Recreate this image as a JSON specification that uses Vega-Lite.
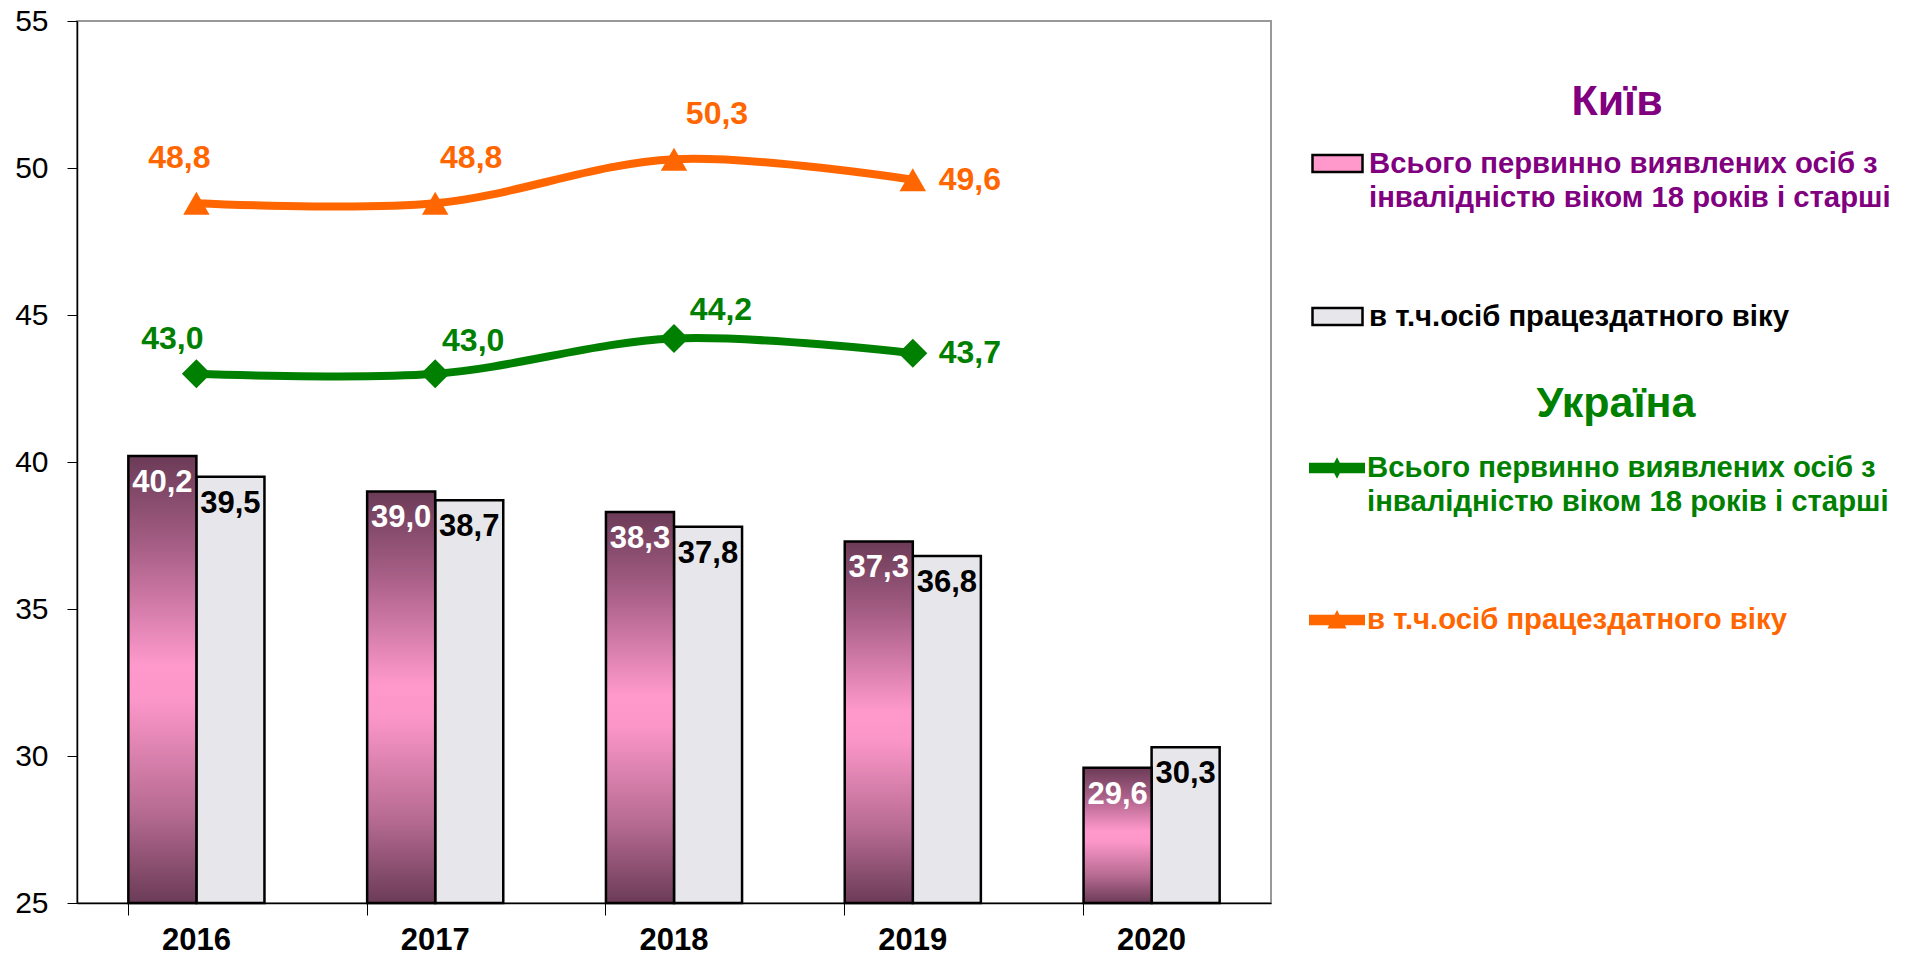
{
  "$schema": "https://vega.github.io/schema/vega-lite/v6.json",
  "width": 1194,
  "height": 882,
  "autosize": {"type": "none"},
  "padding": {"left": 77, "top": 21, "right": 638, "bottom": 54},
  "background": "white",
  "config": {
    "font": "Liberation Sans",
    "view": {"stroke": "#999999", "strokeWidth": 2},
    "locale": {"number": {"decimal": ",", "thousands": " ", "grouping": [3], "currency": ["", " ₴"]}}
  },
  "data": {
    "values": [
      {"year": "2016", "s": "K1", "value": 40.2},
      {"year": "2017", "s": "K1", "value": 39.0},
      {"year": "2018", "s": "K1", "value": 38.3},
      {"year": "2019", "s": "K1", "value": 37.3},
      {"year": "2020", "s": "K1", "value": 29.6},
      {"year": "2016", "s": "K2", "value": 39.5},
      {"year": "2017", "s": "K2", "value": 38.7},
      {"year": "2018", "s": "K2", "value": 37.8},
      {"year": "2019", "s": "K2", "value": 36.8},
      {"year": "2020", "s": "K2", "value": 30.3},
      {"year": "2016", "s": "U1", "value": 43.0},
      {"year": "2017", "s": "U1", "value": 43.0},
      {"year": "2018", "s": "U1", "value": 44.2},
      {"year": "2019", "s": "U1", "value": 43.7},
      {"year": "2016", "s": "U2", "value": 48.8},
      {"year": "2017", "s": "U2", "value": 48.8},
      {"year": "2018", "s": "U2", "value": 50.3},
      {"year": "2019", "s": "U2", "value": 49.6}
    ]
  },
  "encoding": {
    "x": {
      "field": "year", "type": "nominal",
      "scale": {"domain": ["2016", "2017", "2018", "2019", "2020"], "paddingInner": 0.43, "paddingOuter": 0.215},
      "axis": {
        "title": null, "labelAngle": 0, "labelFont": "Liberation Sans", "labelFontSize": 31, "labelFontWeight": "bold",
        "labelColor": "black", "labelPadding": 10, "labelBaseline": "top",
        "bandPosition": 0, "tickSize": 12, "tickColor": "black", "tickWidth": 1,
        "domainColor": "black", "domainWidth": 1.5, "grid": false
      }
    },
    "y": {
      "field": "value", "type": "quantitative",
      "scale": {"domain": [25, 55], "nice": false, "zero": false},
      "axis": {
        "title": null, "values": [25, 30, 35, 40, 45, 50, 55], "labelFont": "Liberation Sans", "labelFontSize": 30,
        "labelColor": "black", "labelPadding": 19, "tickSize": 10, "tickColor": "black", "tickWidth": 1,
        "domainColor": "black", "domainWidth": 1.5, "grid": false
      }
    }
  },
  "layer": [
    {
      "transform": [{"filter": "datum.s == 'K2'"}],
      "mark": {"type": "bar", "stroke": "black", "strokeWidth": 2.5},
      "encoding": {
        "xOffset": {"field": "s", "type": "nominal", "scale": {"domain": ["K1", "K2"], "paddingInner": 0}},
        "y2": {"datum": 25},
        "fill": {
          "field": "s", "type": "nominal",
          "scale": {"domain": ["K1", "K2"], "range": ["#ff99cc", "#e7e7eb"]},
          "legend": {
            "orient": "none", "legendX": 1234, "legendY": 60,
            "title": "Київ", "titleFont": "Liberation Sans", "titleFontSize": 43, "titleFontWeight": "bold",
            "titleColor": "#800080", "titleAnchor": "middle", "titlePadding": 13,
            "labelExpr": "datum.value == 'K1' ? ['Всього первинно виявлених осіб з', 'інвалідністю віком 18 років і старші'] : 'в т.ч.осіб працездатного віку'",
            "labelFont": "Liberation Sans", "labelFontSize": 29.3, "labelFontWeight": "bold", "labelLimit": 0,
            "labelOffset": 5, "rowPadding": 77,
            "symbolType": "M-1,-0.34H1V0.34H-1Z", "symbolSize": 2500, "symbolStrokeColor": "black", "symbolStrokeWidth": 2.5,
            "encode": {
              "labels": {"update": {
                "fill": {"signal": "datum.value == 'K1' ? '#800080' : 'black'"},
                "lineHeight": {"value": 34}
              }},
              "title": {"update": {"dx": {"value": 16}}}
            }
          }
        }
      }
    },
    {
      "transform": [{"filter": "datum.s == 'K1'"}],
      "mark": {
        "type": "bar", "stroke": "black", "strokeWidth": 2.5,
        "fill": {
          "gradient": "linear", "x1": 0, "y1": 0, "x2": 0, "y2": 1,
          "stops": [
            {"offset": 0, "color": "#6b3b57"},
            {"offset": 0.2, "color": "#a65e85"},
            {"offset": 0.47, "color": "#ff99cc"},
            {"offset": 0.55, "color": "#fb96c8"},
            {"offset": 0.8, "color": "#b56a91"},
            {"offset": 1, "color": "#6b3b57"}
          ]
        }
      },
      "encoding": {
        "xOffset": {"field": "s", "type": "nominal", "scale": {"domain": ["K1", "K2"], "paddingInner": 0}},
        "y2": {"datum": 25}
      }
    },
    {
      "transform": [{"filter": "datum.s == 'K1' || datum.s == 'K2'"}],
      "mark": {"type": "text", "font": "Liberation Sans", "fontSize": 31, "fontWeight": "bold", "baseline": "middle", "align": "center", "dy": 27},
      "encoding": {
        "xOffset": {"field": "s", "type": "nominal", "scale": {"domain": ["K1", "K2"], "paddingInner": 0}},
        "text": {"field": "value", "type": "quantitative", "format": ".1f"},
        "color": {"condition": {"test": "datum.s == 'K1'", "value": "white"}, "value": "black"}
      }
    },
    {
      "transform": [{"filter": "datum.s == 'U1' || datum.s == 'U2'"}],
      "mark": {"type": "line", "interpolate": "catmull-rom", "strokeWidth": 8},
      "encoding": {
        "color": {
          "field": "s", "type": "nominal",
          "scale": {"domain": ["U1", "U2"], "range": ["#008000", "#ff6600"]},
          "legend": {
            "orient": "none", "legendX": 1232, "legendY": 362,
            "title": "Україна", "titleFont": "Liberation Sans", "titleFontSize": 43, "titleFontWeight": "bold",
            "titleColor": "#008000", "titleAnchor": "middle", "titlePadding": 14,
            "labelExpr": "datum.value == 'U1' ? ['Всього первинно виявлених осіб з', 'інвалідністю віком 18 років і старші'] : 'в т.ч.осіб працездатного віку'",
            "labelFont": "Liberation Sans", "labelFontSize": 29.3, "labelFontWeight": "bold", "labelLimit": 0,
            "labelOffset": 2, "rowPadding": 74,
            "symbolSize": 3136, "symbolStrokeWidth": 0,
            "symbolType": "M-1,-0.19H1V0.19H-1Z",
            "encode": {
              "symbols": {"update": {
                "shape": {"signal": "datum.value == 'U1' ? 'M-1,-0.19H1V0.19H-1Z M0,-0.38L0.2,0L0,0.38L-0.2,0Z' : 'M-1,-0.19H1V0.19H-1Z M0,-0.36L0.34,0.3L-0.34,0.3Z'"},
                "fill": {"signal": "datum.value == 'U1' ? '#008000' : '#ff6600'"},
                "strokeWidth": {"value": 0},
                "opacity": {"value": 1}
              }},
              "labels": {"update": {
                "fill": {"signal": "datum.value == 'U1' ? '#008000' : '#ff6600'"},
                "lineHeight": {"value": 34}
              }},
              "title": {"update": {"dx": {"value": 17}}}
            }
          }
        }
      }
    },
    {
      "transform": [{"filter": "datum.s == 'U1'"}],
      "mark": {"type": "point", "filled": true, "opacity": 1, "shape": "diamond", "size": 841},
      "encoding": {"color": {"field": "s", "type": "nominal"}}
    },
    {
      "transform": [{"filter": "datum.s == 'U2'"}],
      "mark": {"type": "point", "filled": true, "opacity": 1, "shape": "triangle-up", "size": 700},
      "encoding": {"color": {"field": "s", "type": "nominal"}}
    },
    {
      "transform": [{"filter": "datum.s == 'U2' && datum.year == '2016'"}],
      "mark": {"type": "text", "font": "Liberation Sans", "fontSize": 32, "fontWeight": "bold", "baseline": "middle", "align": "center", "dx": -17, "dy": -45, "color": "#ff6600"},
      "encoding": {"text": {"field": "value", "type": "quantitative", "format": ".1f"}}
    },
    {
      "transform": [{"filter": "datum.s == 'U2' && datum.year == '2017'"}],
      "mark": {"type": "text", "font": "Liberation Sans", "fontSize": 32, "fontWeight": "bold", "baseline": "middle", "align": "center", "dx": 36, "dy": -45, "color": "#ff6600"},
      "encoding": {"text": {"field": "value", "type": "quantitative", "format": ".1f"}}
    },
    {
      "transform": [{"filter": "datum.s == 'U2' && datum.year == '2018'"}],
      "mark": {"type": "text", "font": "Liberation Sans", "fontSize": 32, "fontWeight": "bold", "baseline": "middle", "align": "center", "dx": 43, "dy": -45, "color": "#ff6600"},
      "encoding": {"text": {"field": "value", "type": "quantitative", "format": ".1f"}}
    },
    {
      "transform": [{"filter": "datum.s == 'U1' && datum.year == '2016'"}],
      "mark": {"type": "text", "font": "Liberation Sans", "fontSize": 32, "fontWeight": "bold", "baseline": "middle", "align": "center", "dx": -24, "dy": -35, "color": "#008000"},
      "encoding": {"text": {"field": "value", "type": "quantitative", "format": ".1f"}}
    },
    {
      "transform": [{"filter": "datum.s == 'U1' && datum.year == '2017'"}],
      "mark": {"type": "text", "font": "Liberation Sans", "fontSize": 32, "fontWeight": "bold", "baseline": "middle", "align": "center", "dx": 38, "dy": -33, "color": "#008000"},
      "encoding": {"text": {"field": "value", "type": "quantitative", "format": ".1f"}}
    },
    {
      "transform": [{"filter": "datum.s == 'U1' && datum.year == '2018'"}],
      "mark": {"type": "text", "font": "Liberation Sans", "fontSize": 32, "fontWeight": "bold", "baseline": "middle", "align": "center", "dx": 47, "dy": -29, "color": "#008000"},
      "encoding": {"text": {"field": "value", "type": "quantitative", "format": ".1f"}}
    },
    {
      "transform": [{"filter": "(datum.s == 'U1' || datum.s == 'U2') && datum.year == '2019'"}],
      "mark": {"type": "text", "font": "Liberation Sans", "fontSize": 32, "fontWeight": "bold", "baseline": "middle", "align": "center", "dx": 57, "dy": 0},
      "encoding": {
        "text": {"field": "value", "type": "quantitative", "format": ".1f"},
        "color": {"condition": {"test": "datum.s == 'U1'", "value": "#008000"}, "value": "#ff6600"}
      }
    }
  ]
}
